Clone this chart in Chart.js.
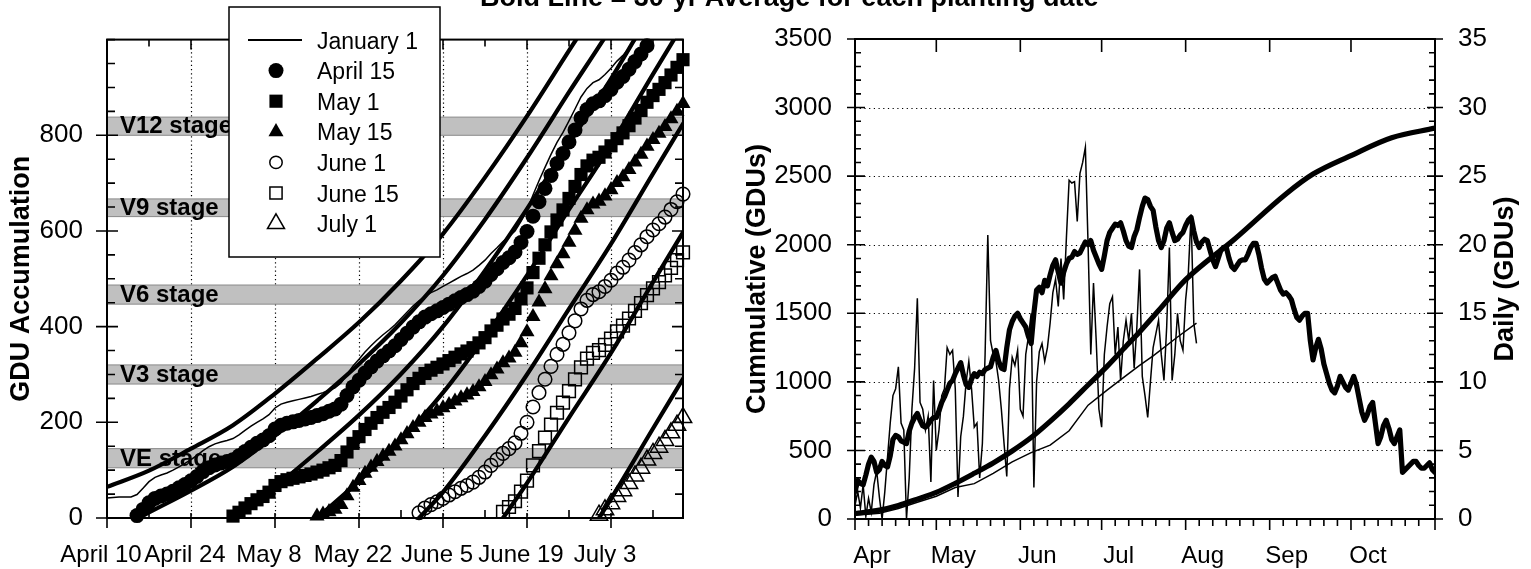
<!DOCTYPE html>
<html>
<head>
<meta charset="utf-8">
<script src="https://cdn.jsdelivr.net/npm/chart.js@4.4.1/dist/chart.umd.min.js"></script>
<style>
html,body{margin:0;padding:0;background:#fff;width:1531px;height:569px;overflow:hidden;position:relative}
#cl{position:absolute;left:0;top:0}
#cr{position:absolute;left:720px;top:0}
#title{position:absolute;left:480px;top:-16px;font:bold 27px 'Liberation Sans',Arial,sans-serif;line-height:27px;white-space:nowrap;color:#000;z-index:5}
</style>
</head>
<body>
<canvas id="cl" width="720" height="569"></canvas>
<canvas id="cr" width="811" height="569"></canvas>
<div id="title">Bold Line = 30-yr Average for each planting date</div>
<script>
const FONT = "'Liberation Sans', Arial, Helvetica, sans-serif";

// ================= LEFT CHART DATA (x = days after April 10) =================
const leftTickDays = [0, 14, 28, 42, 56, 70, 84];
const leftTickLabels = ['April 10', 'April 24', 'May 8', 'May 22', 'June 5', 'June 19', 'July 3'];
const gduTickValues = [0, 200, 400, 600, 800];
const stageNames = ['VE stage', 'V3 stage', 'V6 stage', 'V9 stage', 'V12 stage'];
const stageLow = [105, 280, 447, 630, 800];
const stageHigh = [145, 320, 487, 667, 838];
const legendLabels = ['January 1', 'April 15', 'May 1', 'May 15', 'June 1', 'June 15', 'July 1'];

// current-year accumulation, thin line (January 1 planting)
const jan1ActualStart = 0;
const jan1ActualGdu = [42,43,44,44,44,49,62,76,85,90, 94,100,107,114,122,131,141,149,155,159,
  162,166,174,183,192,200,207,216,230,238, 242,245,248,251,254,258,262,267,272,282,
  300,318,332,347,360,372,383,393,404,417, 430,443,454,464,471,477,484,491,498,505,
  511,518,528,539,553,565,578,588,600,620, 643,675,705,733,760,785,806,830,855,880,
  898,910,916,927,940,955,967,982,998,1014, 1031,1045,1058,1072,1088,1104,1120];

const april15Start = 5;
const april15Gdu = [5,18,32,41,46,50,56,63,70,78,87,97,105,111,115,118,122,130,139,148,
  156,163,172,186,194,198,201,204,207,210,214,218,223,228,238,256,274,288,303,316,
  328,339,349,360,373,386,399,410,420,427,433,440,447,454,461,467,474,484,495,509,
  521,534,544,556,576,599,631,661,689,716,741,762,786,811,836,854,866,872,883,896,
  911,923,938,954,970,987];

const may1Start = 21;
const may1Gdu = [4,12,21,30,38,45,54,68,76,80,83,86,89,92,96,100,105,110,120,138,
  156,170,185,198,210,221,231,242,255,268,281,292,302,309,315,322,329,336,343,349,
  356,366,377,391,403,416,426,438,458,481,513,543,571,598,623,644,668,693,718,736,
  748,754,765,778,793,805,820,836,852,869,883,896,910,926,942,958];

const may15Start = 35;
const may15Gdu = [4,8,13,18,28,46,64,78,93,106,118,129,139,150,163,176,189,200,210,217,
  223,230,237,244,251,257,264,274,285,299,311,324,334,346,366,389,421,451,479,506,
  531,552,576,601,626,644,656,662,673,686,701,713,728,744,760,777,791,804,818,834,850,866];

const june1Start = 52;
const june1Gdu = [11,21,28,34,41,48,55,62,68,75,85,96,110,122,135,145,157,177,200,232,
  262,290,317,342,363,387,412,437,455,467,473,484,497,512,524,539,555,571,588,602,
  615,629,645,661,677];

const june15Start = 66;
const june15Gdu = [13,23,35,55,78,110,140,168,195,220,241,265,290,315,333,345,351,362,375,390,
  402,417,433,449,466,480,493,507,523,539,555];

const july1Start = 82;
const july1Gdu = [6,17,30,45,57,72,88,104,121,135,148,162,178,194,210];

// 30-yr averages (bold lines)
const jan1AvgDays = [0,7,14,21,28,35,42,49,56,63,70,77,84,91,96];
const jan1AvgGdu = [65,99,145,194,260,333,409,496,594,712,840,977,1113,1260,1364];
const april15AvgDays = [5,7,14,21,28,35,42,49,56,63,70,77,84,91,96];
const april15AvgGdu = [0,12,57,107,172,245,322,408,507,624,753,890,1025,1173,1277];
const may1AvgDays = [21,28,35,42,49,56,63,70,77,84,91,96];
const may1AvgGdu = [0,65,138,215,301,400,517,646,783,918,1066,1170];
const may15AvgDays = [35,42,49,56,63,70,77,84,91,96];
const may15AvgGdu = [0,77,163,262,379,507,645,780,928,1031];
const june1AvgDays = [52,56,63,70,77,84,91,96];
const june1AvgGdu = [0,54,172,300,437,573,720,824];
const june15AvgDays = [66,70,77,84,91,96];
const june15AvgGdu = [0,73,210,345,493,597];
const july1AvgDays = [82,84,91,96];
const july1AvgGdu = [0,40,187,291];

// ================= RIGHT CHART DATA (x = days after April 1) =================
const monthStartDays = [0, 30, 61, 91, 122, 153, 183];
const monthLabels = ['Apr', 'May', 'Jun', 'Jul', 'Aug', 'Sep', 'Oct'];
const cumTickValues = [0, 500, 1000, 1500, 2000, 2500, 3000, 3500];
const dailyTickValues = [0, 5, 10, 15, 20, 25, 30, 35];

const cumAvgDays = [0,9,16,23,30,37,44,51,58,65,72,79,86,93,100,105,112,122,140,159,169,183,198,214];
const cumAvgGdu = [40,65,99,145,194,260,333,409,496,594,712,840,977,1113,1260,1364,1520,1745,2040,2370,2515,2650,2780,2850];
const cumActualDays = [0,9,16,23,30,37,44,51,58,65,72,79,86,93,100,105,110,119,126];
const cumActualGdu = [28,42,76,122,166,230,258,332,417,484,539,643,830,940,1045,1120,1190,1327,1429];

const dailyAvgStart = 0;
const dailyAvgGdu = [2.0,2.8,2.6,2.5,3.2,4.0,4.5,4.2,3.4,3.6, 4.2,3.9,3.8,4.6,5.8,6.1,6.0,5.7,5.6,5.5,
  6.4,7.0,7.4,7.7,7.2,6.8,6.7,6.9,7.2,7.4, 7.4,7.9,8.5,8.9,9.4,9.9,10.1,10.6,11.0,11.4,
  10.5,9.8,9.6,10.2,10.6,10.4,10.7,10.6,10.9,11.0, 11.1,11.8,12.3,11.5,11.0,10.9,12.5,13.8,14.4,14.8,
  15.0,14.6,14.3,14.0,13.3,12.8,15.0,16.7,16.9,16.5, 17.4,17.0,17.8,18.5,18.9,18.0,17.2,18.0,18.6,19.0,
  19.1,19.5,19.3,19.4,19.8,20.2,20.0,20.3,19.6,19.1, 18.6,18.2,19.2,20.3,20.9,21.2,21.5,21.4,21.6,21.0,
  20.3,19.9,19.8,20.6,21.1,22.0,22.8,23.4,23.3,22.8, 22.5,21.3,20.3,19.8,20.3,21.2,21.6,20.9,20.3,20.4,
  20.7,20.9,21.4,21.8,22.0,21.0,20.2,19.8,20.2,20.4, 20.3,19.6,18.9,18.4,19.0,19.6,19.8,19.8,19.0,18.4,
  18.2,18.5,18.8,18.9,18.9,19.3,19.8,20.1,20.1,19.3, 18.3,17.5,17.2,17.4,17.6,17.7,17.2,16.7,16.4,16.5,
  16.3,16.0,15.3,14.7,14.5,14.8,15.0,15.0,13.0,11.6, 12.5,13.1,12.4,11.3,10.6,9.9,9.4,9.2,9.7,10.4,
  10.0,9.6,9.4,9.9,10.4,9.8,8.8,7.8,7.2,7.6, 8.2,8.5,7.0,5.5,6.0,6.8,7.2,6.6,5.8,5.5,
  6.0,6.5,3.4,3.6,3.8,4.0,4.2,4.2,3.9,3.7, 3.7,3.9,4.1,3.6,3.4];

const dailyActualStart = 0;
const dailyActualGdu = [1.0,2.0,0.8,2.5,0.2,1.5,0.5,2.5,3.5,1.6, 0.0,2.0,4.5,7.0,9.0,9.5,11.1,7.0,6.5,0.0,
  3.0,8.0,11.0,16.1,8.5,8.0,6.5,7.5,2.7,10.1, 5.0,6.5,9.0,9.5,12.5,12.0,12.3,9.5,1.6,6.0,
  7.5,10.0,11.5,9.5,6.7,7.0,3.0,5.5,12.0,20.7, 13.0,12.0,11.5,10.1,8.0,5.5,3.1,9.5,11.8,11.2,
  12.3,8.0,7.5,12.0,13.3,15.0,2.3,10.0,12.2,12.8, 11.5,12.5,14.3,16.5,17.5,15.5,19.0,16.0,20.5,24.7,
  24.5,24.6,21.7,25.2,26.0,27.1,20.0,12.0,17.2,13.0, 8.0,6.7,12.0,14.0,15.7,16.2,12.0,14.0,10.1,13.0,
  14.5,13.0,15.0,11.0,14.0,18.2,10.4,9.0,7.4,10.0, 12.5,13.5,14.5,12.0,10.1,14.0,19.8,10.1,12.0,15.0,
  13.0,12.3,16.0,18.0,22.2,14.3,12.8];

// ================= helpers =================
const seq = (start, vals) => vals.map((v, i) => ({x: start + i, y: v}));
const pairs = (xs, ys) => xs.map((x, i) => ({x: x, y: ys[i]}));

function boldLine(data, w) {
  return {data, borderColor: '#000', borderWidth: w, pointRadius: 0, fill: false,
    cubicInterpolationMode: 'monotone', order: 0, borderJoinStyle: 'round', borderCapStyle: 'round'};
}
function thinLine(data, yAxisID) {
  const d = {data, borderColor: '#000', borderWidth: 1.5, pointRadius: 0, fill: false, tension: 0, order: 0};
  if (yAxisID) d.yAxisID = yAxisID;
  return d;
}
// plot marker styles (legend uses slightly smaller open symbols)
const markerStyles = [
  {style: 'circle', r: 7.5, filled: true},
  {style: 'rect', r: 9.3, filled: true},
  {style: 'triangle', r: 8.7, filled: true},
  {style: 'circle', r: 6.8, filled: false},
  {style: 'rect', r: 9.0, filled: false},
  {style: 'triangle', r: 10.0, filled: false}
];
const legendMarkerStyles = [
  {style: 'circle', r: 7.5, filled: true},
  {style: 'rect', r: 9.3, filled: true},
  {style: 'triangle', r: 8.7, filled: true},
  {style: 'circle', r: 6.2, filled: false},
  {style: 'rect', r: 8.6, filled: false},
  {style: 'triangle', r: 9.8, filled: false}
];
function markerSet(data, m) {
  return {data, showLine: false, pointStyle: m.style, pointRadius: m.r,
    pointBorderWidth: m.filled ? 0 : 1.5, pointBorderColor: '#000',
    pointBackgroundColor: m.filled ? '#000' : 'rgba(0,0,0,0)', clip: false, order: 1};
}
function seg(ctx, x1, y1, x2, y2) { ctx.moveTo(x1, y1); ctx.lineTo(x2, y2); }
function drawMarker(ctx, m, x, y) {
  ctx.save();
  ctx.beginPath();
  if (m.style === 'circle') {
    ctx.arc(x, y, m.r, 0, Math.PI * 2);
  } else if (m.style === 'rect') {
    const s = Math.SQRT1_2 * m.r;
    ctx.rect(x - s, y - s, 2 * s, 2 * s);
  } else {
    let rad = 0;
    for (let k = 0; k < 3; k++) {
      const px = x + Math.sin(rad) * m.r, py = y - Math.cos(rad) * m.r;
      if (k === 0) ctx.moveTo(px, py); else ctx.lineTo(px, py);
      rad += 2 * Math.PI / 3;
    }
    ctx.closePath();
  }
  if (m.filled) { ctx.fillStyle = '#000'; ctx.fill(); }
  else { ctx.lineWidth = 1.5; ctx.strokeStyle = '#000'; ctx.stroke(); }
  ctx.restore();
}

// ================= LEFT CHART =================
const leftPlugin = {
  id: 'leftDecor',
  beforeDatasetsDraw(chart) {
    const ctx = chart.ctx, a = chart.chartArea, xs = chart.scales.x, ys = chart.scales.y;
    ctx.save();
    ctx.strokeStyle = '#000'; ctx.lineWidth = 1.2; ctx.setLineDash([1.2, 3]);
    ctx.beginPath();
    leftTickDays.forEach(d => { if (d > 0) { const px = Math.round(xs.getPixelForValue(d)) + 0.5; seg(ctx, px, a.top, px, a.bottom); } });
    ctx.stroke();
    ctx.setLineDash([]);
    stageNames.forEach((name, i) => {
      const y1 = ys.getPixelForValue(stageHigh[i]), y2 = ys.getPixelForValue(stageLow[i]);
      ctx.fillStyle = '#c0c0c0';
      ctx.fillRect(a.left, y1, a.right - a.left, y2 - y1);
      ctx.strokeStyle = '#8a8a8a'; ctx.lineWidth = 1;
      ctx.strokeRect(a.left, y1, a.right - a.left, y2 - y1);
      ctx.fillStyle = '#000';
      ctx.font = 'bold 24px ' + FONT;
      ctx.textBaseline = 'alphabetic'; ctx.textAlign = 'left';
      ctx.fillText(name, a.left + 13, y2 - 2);
    });
    ctx.restore();
  },
  afterDraw(chart) {
    const ctx = chart.ctx, a = chart.chartArea, xs = chart.scales.x, ys = chart.scales.y;
    ctx.save();
    ctx.strokeStyle = '#000';
    ctx.lineWidth = 2;
    ctx.strokeRect(a.left, a.top, a.right - a.left, a.bottom - a.top);
    ctx.lineWidth = 1.6;
    ctx.beginPath();
    for (let d = 0; d <= 96; d += 7) {
      const px = xs.getPixelForValue(d);
      if (leftTickDays.includes(d)) { seg(ctx, px, a.bottom - 5, px, a.bottom + 10); seg(ctx, px, a.top, px, a.top + 10); }
      else { seg(ctx, px, a.bottom - 8, px, a.bottom); seg(ctx, px, a.top, px, a.top + 7); }
    }
    for (let v = 0; v <= 1000; v += 50) {
      const py = ys.getPixelForValue(v);
      if (gduTickValues.includes(v)) { seg(ctx, a.left - 11, py, a.left + 11, py); seg(ctx, a.right - 11, py, a.right, py); }
      else { seg(ctx, a.left, py, a.left + 8, py); seg(ctx, a.right - 8, py, a.right, py); }
    }
    ctx.stroke();
    ctx.save();
    ctx.translate(22, (a.top + a.bottom) / 2);
    ctx.rotate(-Math.PI / 2);
    ctx.font = 'bold 27px ' + FONT; ctx.fillStyle = '#000';
    ctx.textAlign = 'center'; ctx.textBaseline = 'middle';
    ctx.fillText('GDU Accumulation', 0, 0);
    ctx.restore();
    const lx = 229, ly = 7, lw = 211, lh = 250;
    ctx.fillStyle = '#fff';
    ctx.fillRect(lx, ly, lw, lh);
    ctx.lineWidth = 1.5; ctx.strokeStyle = '#000';
    ctx.strokeRect(lx, ly, lw, lh);
    ctx.font = '23px ' + FONT; ctx.textAlign = 'left'; ctx.textBaseline = 'alphabetic';
    legendLabels.forEach((lab, i) => {
      const cy = 40 + i * 30.6;
      if (i === 0) {
        ctx.beginPath(); ctx.lineWidth = 2; seg(ctx, 248, cy, 302, cy); ctx.stroke();
      } else {
        drawMarker(ctx, legendMarkerStyles[i - 1], 276, cy);
      }
      ctx.fillStyle = '#000';
      ctx.fillText(lab, 317, cy + 8.5);
    });
    ctx.restore();
  }
};

new Chart(document.getElementById('cl'), {
  type: 'line',
  data: {
    datasets: [
      boldLine(pairs(jan1AvgDays, jan1AvgGdu), 4.2),
      boldLine(pairs(april15AvgDays, april15AvgGdu), 4.2),
      boldLine(pairs(may1AvgDays, may1AvgGdu), 4.2),
      boldLine(pairs(may15AvgDays, may15AvgGdu), 4.2),
      boldLine(pairs(june1AvgDays, june1AvgGdu), 4.2),
      boldLine(pairs(june15AvgDays, june15AvgGdu), 4.2),
      boldLine(pairs(july1AvgDays, july1AvgGdu), 4.2),
      thinLine(seq(jan1ActualStart, jan1ActualGdu)),
      markerSet(seq(april15Start, april15Gdu), markerStyles[0]),
      markerSet(seq(may1Start, may1Gdu), markerStyles[1]),
      markerSet(seq(may15Start, may15Gdu), markerStyles[2]),
      markerSet(seq(june1Start, june1Gdu), markerStyles[3]),
      markerSet(seq(june15Start, june15Gdu), markerStyles[4]),
      markerSet(seq(july1Start, july1Gdu), markerStyles[5])
    ]
  },
  options: {
    responsive: false, animation: false, devicePixelRatio: 1,
    layout: {padding: {top: 37, right: 37, left: 0, bottom: 0}},
    plugins: {legend: {display: false}, tooltip: {enabled: false}},
    scales: {
      x: {
        type: 'linear', min: 0, max: 96,
        afterBuildTicks: s => { s.ticks = leftTickDays.map(v => ({value: v})); },
        afterFit: s => { s.height = 51; },
        ticks: {autoSkip: false, maxRotation: 0, padding: 23, labelOffset: -6, color: '#000',
          font: {family: FONT, size: 24},
          callback: v => leftTickLabels[leftTickDays.indexOf(v)]},
        grid: {display: false, drawTicks: false}, border: {display: false}
      },
      y: {
        type: 'linear', min: 0, max: 1000,
        afterBuildTicks: s => { s.ticks = gduTickValues.map(v => ({value: v})); },
        afterFit: s => { s.width = 107; },
        ticks: {padding: 24, color: '#000', font: {family: FONT, size: 26}, callback: v => String(v)},
        grid: {display: false, drawTicks: false}, border: {display: false}
      }
    }
  },
  plugins: [leftPlugin]
});

// ================= RIGHT CHART =================
const rightPlugin = {
  id: 'rightDecor',
  beforeDatasetsDraw(chart) {
    const ctx = chart.ctx, a = chart.chartArea, ys = chart.scales.y;
    ctx.save();
    ctx.strokeStyle = '#000'; ctx.lineWidth = 1.2; ctx.setLineDash([1.2, 3.5]);
    ctx.beginPath();
    cumTickValues.forEach(v => { if (v > 0 && v < 3500) { const py = Math.round(ys.getPixelForValue(v)) + 0.5; seg(ctx, a.left, py, a.right, py); } });
    ctx.stroke();
    ctx.restore();
  },
  afterDraw(chart) {
    const ctx = chart.ctx, a = chart.chartArea, xs = chart.scales.x, ys = chart.scales.y;
    ctx.save();
    ctx.strokeStyle = '#000';
    ctx.lineWidth = 2;
    ctx.strokeRect(a.left, a.top, a.right - a.left, a.bottom - a.top);
    ctx.lineWidth = 1.6;
    ctx.beginPath();
    for (let v = 0; v <= 3500; v += 100) {
      const py = ys.getPixelForValue(v);
      if (v % 500 === 0) { seg(ctx, a.left - 8, py, a.left + 10, py); seg(ctx, a.right - 8, py, a.right + 8, py); }
      else { seg(ctx, a.left, py, a.left + 6, py); seg(ctx, a.right - 6, py, a.right, py); }
    }
    const majors = monthStartDays.concat([214]);
    majors.forEach(d => { const px = xs.getPixelForValue(d); seg(ctx, px, a.bottom, px, a.bottom + 11); seg(ctx, px, a.top, px, a.top + 13); });
    monthStartDays.forEach(d0 => {
      [5, 10, 15, 20, 25].forEach(k => { const px = xs.getPixelForValue(d0 + k); seg(ctx, px, a.bottom, px, a.bottom + 7); });
    });
    ctx.stroke();
    ctx.font = 'bold 27px ' + FONT; ctx.fillStyle = '#000';
    ctx.textAlign = 'center'; ctx.textBaseline = 'middle';
    ctx.save(); ctx.translate(38, (a.top + a.bottom) / 2); ctx.rotate(-Math.PI / 2);
    ctx.fillText('Cummulative (GDUs)', 0, 0); ctx.restore();
    ctx.save(); ctx.translate(786, (a.top + a.bottom) / 2); ctx.rotate(-Math.PI / 2);
    ctx.fillText('Daily (GDUs)', 0, 0); ctx.restore();
    ctx.restore();
  }
};

new Chart(document.getElementById('cr'), {
  type: 'line',
  data: {
    datasets: [
      thinLine(seq(dailyActualStart, dailyActualGdu), 'y2'),
      thinLine(pairs(cumActualDays, cumActualGdu), 'y'),
      Object.assign(boldLine(pairs(cumAvgDays, cumAvgGdu), 5.2), {yAxisID: 'y', order: 1}),
      Object.assign(boldLine(seq(dailyAvgStart, dailyAvgGdu), 5.2), {yAxisID: 'y2', order: 1, cubicInterpolationMode: 'default', tension: 0})
    ]
  },
  options: {
    responsive: false, animation: false, devicePixelRatio: 1,
    layout: {padding: {top: 39, right: 0, left: 0, bottom: 0}},
    plugins: {legend: {display: false}, tooltip: {enabled: false}},
    scales: {
      x: {
        type: 'linear', min: 0, max: 214,
        afterBuildTicks: s => { s.ticks = monthStartDays.map(v => ({value: v})); },
        afterFit: s => { s.height = 50; },
        ticks: {autoSkip: false, maxRotation: 0, padding: 23, labelOffset: 17, color: '#000',
          font: {family: FONT, size: 24},
          callback: v => monthLabels[monthStartDays.indexOf(v)]},
        grid: {display: false, drawTicks: false}, border: {display: false}
      },
      y: {
        type: 'linear', position: 'left', min: 0, max: 3500,
        afterBuildTicks: s => { s.ticks = cumTickValues.map(v => ({value: v})); },
        afterFit: s => { s.width = 135; },
        ticks: {padding: 23, color: '#000', font: {family: FONT, size: 26}, callback: v => String(v)},
        grid: {display: false, drawTicks: false}, border: {display: false}
      },
      y2: {
        type: 'linear', position: 'right', min: 0, max: 35,
        afterBuildTicks: s => { s.ticks = dailyTickValues.map(v => ({value: v})); },
        afterFit: s => { s.width = 96; },
        ticks: {padding: 23, color: '#000', font: {family: FONT, size: 26}, callback: v => String(v)},
        grid: {display: false, drawTicks: false}, border: {display: false}
      }
    }
  },
  plugins: [rightPlugin]
});
</script>
</body>
</html>
